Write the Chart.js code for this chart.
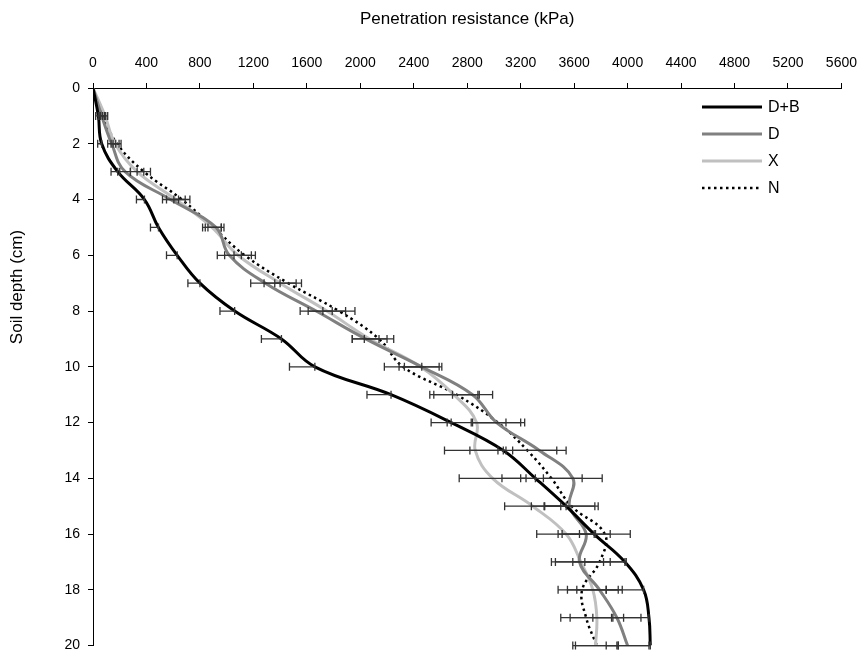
<!DOCTYPE html>
<html>
<head>
<meta charset="utf-8">
<script src="https://cdn.jsdelivr.net/npm/chart.js@4.4.1/dist/chart.umd.min.js"></script>
<style>
  body { margin: 0; background: #fff; }
  #wrap { width: 868px; height: 662px; position: relative; }
</style>
</head>
<body>
<div id="wrap"><canvas id="profileChart"></canvas></div>
<script>
// soil depth (cm) and penetration resistance (kPa) per treatment
var depths = [0, 1, 2, 3, 4, 5, 6, 7, 8, 9, 10, 11, 12, 13, 14, 15, 16, 17, 18, 19, 20];
var seriesNames = ["D+B", "D", "X", "N"];

var valDB = [0, 40, 65, 185, 385, 490, 630, 800, 1060, 1410, 1660, 2230, 2680, 3070, 3310, 3540, 3750, 3980, 4120, 4160, 4170];
var valD  = [0, 65, 140, 240, 580, 920, 1020, 1290, 1670, 2040, 2460, 2840, 3020, 3340, 3590, 3565, 3690, 3640, 3790, 3920, 4000];
var valX  = [0, 90, 165, 330, 620, 890, 1085, 1400, 1750, 2070, 2450, 2700, 2870, 2860, 2990, 3290, 3540, 3650, 3740, 3770, 3760];
var valN  = [0, 75, 180, 380, 665, 900, 1135, 1460, 1840, 2140, 2320, 2720, 3030, 3250, 3430, 3580, 3830, 3790, 3660, 3690, 3770];

// error bars (kPa): D+B only shows the minus side
var errDBminus = [0, 20, 30, 50, 60, 60, 80, 90, 110, 150, 190, 180, 150, 250, 250, 260, 270, 300, 280, 270, 250];
var errD = [0, 20, 30, 40, 60, 60, 90, 110, 120, 100, 130, 150, 180, 200, 220, 190, 180, 180, 170, 180, 160];
var errX = [0, 20, 30, 50, 70, 70, 100, 120, 140, 130, 160, 180, 220, 230, 250, 210, 220, 220, 190, 200, 170];
var errN = [0, 20, 30, 50, 60, 60, 80, 100, 120, 110, 140, 170, 200, 220, 230, 200, 190, 200, 180, 190, 160];

var xTicks = [0, 400, 800, 1200, 1600, 2000, 2400, 2800, 3200, 3600, 4000, 4400, 4800, 5200, 5600];
var yTicks = [0, 2, 4, 6, 8, 10, 12, 14, 16, 18, 20];

var FONT = "'Liberation Sans Narrow', 'Liberation Sans', Arial, sans-serif";

function toPoints(values) {
  return values.map(function (v, i) { return { x: v, y: depths[i] }; });
}

var errors = [
  { minus: errDBminus, plus: depths.map(function () { return 0; }) },
  { minus: errD, plus: errD },
  { minus: errX, plus: errX },
  { minus: errN, plus: errN }
];

// horizontal error bars with caps
var errorBarPlugin = {
  id: "errorBars",
  afterDatasetsDraw: function (chart) {
    var ctx = chart.ctx;
    var xs = chart.scales.x, ys = chart.scales.y;
    ctx.save();
    ctx.strokeStyle = "#333";
    ctx.lineWidth = 1.3;
    chart.data.datasets.forEach(function (ds, di) {
      var err = errors[di];
      ds.data.forEach(function (p, i) {
        if (err.minus[i] === 0 && err.plus[i] === 0) return;
        var y = ys.getPixelForValue(p.y);
        var x1 = xs.getPixelForValue(p.x - err.minus[i]);
        var x2 = xs.getPixelForValue(p.x + err.plus[i]);
        ctx.beginPath();
        ctx.moveTo(x1, y); ctx.lineTo(x2, y);
        ctx.moveTo(x1, y - 4); ctx.lineTo(x1, y + 4);
        ctx.moveTo(x2, y - 4); ctx.lineTo(x2, y + 4);
        ctx.stroke();
      });
    });
    ctx.restore();
  }
};

// legend in upper right and rotated y-axis title
var decorPlugin = {
  id: "decor",
  afterDraw: function (chart) {
    var ctx = chart.ctx;
    ctx.save();
    ctx.font = "16px " + FONT;
    ctx.fillStyle = "#000";
    ctx.textBaseline = "middle";
    chart.data.datasets.forEach(function (ds, i) {
      var y = 107 + i * 27;
      ctx.beginPath();
      ctx.strokeStyle = ds.borderColor;
      ctx.lineWidth = ds.borderWidth;
      ctx.setLineDash(ds.borderDash || []);
      ctx.moveTo(702, y); ctx.lineTo(762, y);
      ctx.stroke();
      ctx.setLineDash([]);
      ctx.fillText(ds.label, 768, y + 1);
    });
    ctx.font = "17px " + FONT;
    ctx.translate(17, 287);
    ctx.rotate(-Math.PI / 2);
    ctx.textAlign = "center";
    ctx.fillText("Soil depth (cm)", 0, 0);
    ctx.restore();
  }
};

var ctx = document.getElementById("profileChart").getContext("2d");

var config = {
  type: "scatter",
  data: {
    datasets: [
      { label: seriesNames[0], data: toPoints(valDB), borderColor: "#000000", borderWidth: 3 },
      { label: seriesNames[1], data: toPoints(valD), borderColor: "#808080", borderWidth: 3 },
      { label: seriesNames[2], data: toPoints(valX), borderColor: "#c0c0c0", borderWidth: 3 },
      { label: seriesNames[3], data: toPoints(valN), borderColor: "#000000", borderWidth: 2.5, borderDash: [2.5, 3.5] }
    ].map(function (d) {
      d.showLine = true;
      d.tension = 0.4;
      d.pointRadius = 0;
      d.fill = false;
      return d;
    })
  },
  options: {
    responsive: true,
    maintainAspectRatio: false,
    animation: false,
    layout: { padding: { left: 0, right: 26, top: 0, bottom: 6 } },
    plugins: {
      legend: { display: false },
      tooltip: { enabled: false }
    },
    scales: {
      x: {
        type: "linear",
        position: "top",
        min: 0,
        max: 5600,
        afterBuildTicks: function (scale) {
          scale.ticks = xTicks.map(function (v) { return { value: v }; });
        },
        afterFit: function (scale) { scale.height = 88; },
        grid: { drawOnChartArea: false, drawTicks: true, tickLength: 5, color: "#000" },
        border: { color: "#000", width: 1 },
        ticks: {
          color: "#000", font: { family: FONT, size: 14 }, padding: 11, maxRotation: 0,
          callback: function (v) { return String(v); }
        },
        title: { display: true, text: "Penetration resistance (kPa)", color: "#000", font: { family: FONT, size: 17 }, padding: { top: 9, bottom: 0 } }
      },
      y: {
        type: "linear",
        reverse: true,
        min: 0,
        max: 20,
        afterBuildTicks: function (scale) {
          scale.ticks = yTicks.map(function (v) { return { value: v }; });
        },
        afterFit: function (scale) { scale.width = 93; },
        grid: { drawOnChartArea: false, drawTicks: true, tickLength: 5, color: "#000" },
        border: { color: "#000", width: 1 },
        ticks: {
          color: "#000", font: { family: FONT, size: 14 }, padding: 8,
          callback: function (v) { return String(v); }
        }
      }
    }
  },
  plugins: [errorBarPlugin, decorPlugin]
};

var profileChart = new Chart(ctx, config);
</script>
</body>
</html>
